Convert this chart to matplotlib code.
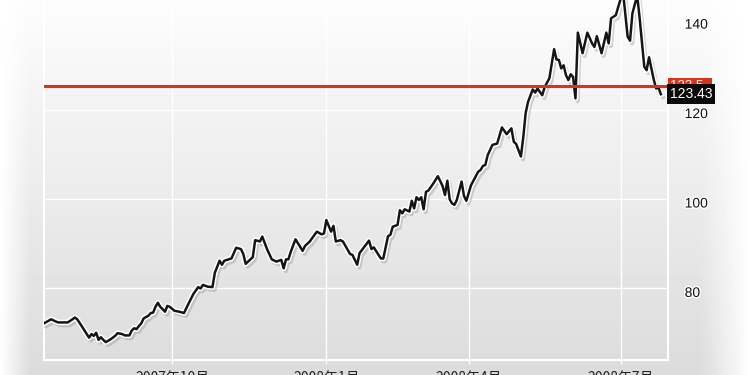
import numpy as np
import matplotlib.pyplot as plt
import matplotlib.patheffects as pe
from matplotlib.transforms import ScaledTranslation

# trading-day index and closing price
day = [0, 3, 5, 6, 10, 12, 13, 14, 16, 18, 19, 20, 21, 22, 23, 24, 25, 26, 28, 30,
       31, 33, 34, 36, 37, 38, 39, 40, 41, 42, 43, 44, 45, 46, 47, 48, 49, 51, 52, 53,
       55, 57, 59, 61, 63, 65, 66, 67, 69, 71, 72, 74, 75, 76, 79, 81, 83, 84, 85, 88,
       89, 91, 92, 94, 96, 98, 100, 101, 102, 103, 104, 106, 109, 110, 112, 115, 117, 118, 119, 121,
       122, 123, 125, 126, 128, 129, 130, 132, 133, 135, 137, 138, 139, 141, 142, 143, 145, 146, 147, 149,
       150, 151, 152, 154, 155, 156, 157, 158, 159, 160, 161, 162, 164, 166, 168, 169, 170, 171, 172, 173,
       174, 176, 177, 178, 180, 183, 184, 185, 186, 187, 189, 191, 193, 195, 197, 198, 199, 201, 202, 203,
       204, 206, 207, 208, 210, 211, 213, 215, 216, 217, 218, 219, 220, 221, 222, 223, 224, 225, 227, 229,
       231, 232, 233, 235, 237, 238, 239, 241, 244, 246, 247, 248, 250, 251, 253, 254, 255, 257, 258, 259,
       260]
price = [72.2, 73.1, 72.6, 72.4, 72.4, 73.1, 73.5, 73.1, 71.5, 69.8, 69.0, 69.8, 69.4, 70.1, 68.5, 69.1, 68.5, 68.0, 68.6, 69.4,
         70.0, 69.8, 69.5, 69.5, 70.6, 71.1, 70.9, 71.6, 72.2, 73.3, 73.6, 73.9, 74.5, 74.6, 75.9, 76.8, 75.9, 74.8, 76.1, 75.9,
         75.0, 74.8, 74.5, 76.7, 78.8, 80.3, 80.0, 80.8, 80.4, 80.3, 83.5, 86.2, 85.3, 86.2, 86.7, 89.1, 88.8, 87.7, 85.5, 87.0,
         90.8, 90.5, 91.6, 88.8, 86.5, 86.0, 86.4, 84.5, 86.5, 86.5, 88.2, 91.0, 88.4, 89.5, 90.5, 92.7, 92.1, 92.3, 95.3, 92.7,
         94.0, 90.5, 90.8, 90.5, 88.6, 87.7, 87.5, 85.3, 87.9, 89.3, 90.7, 88.8, 89.2, 87.5, 86.7, 86.7, 91.7, 92.0, 93.8, 94.2,
         97.5, 96.8, 97.7, 97.2, 99.6, 97.9, 100.4, 99.8, 100.4, 97.7, 101.6, 101.9, 103.4, 105.1, 102.9, 100.9, 104.1, 99.9, 99.0, 98.7,
         99.8, 103.9, 100.7, 99.6, 103.1, 106.1, 106.5, 107.4, 107.6, 109.8, 112.1, 112.4, 116.0, 114.5, 115.8, 112.8, 112.3, 109.5, 113.8, 119.2,
         121.7, 124.5, 123.8, 124.7, 123.2, 125.0, 127.0, 133.5, 131.2, 131.1, 129.2, 129.9, 127.7, 126.6, 127.9, 127.3, 122.5, 137.2, 132.6, 137.2,
         134.8, 134.0, 136.4, 132.6, 137.2, 134.8, 140.4, 141.1, 146.5, 136.3, 135.4, 141.5, 145.5, 140.7, 129.6, 128.8, 131.7, 126.7, 124.7, 124.9,
         123.43]

tick_days = [54, 119, 179, 243]
tick_labels = ['2007年10月', '2008年1月', '2008年4月', '2008年7月']
y_ticks = [80, 100, 120, 140]
ref_level = 125.3
ref_text = '123.5'
last_text = '123.43'

fig = plt.figure(figsize=(7.5, 3.75), dpi=100)

# soft grey background, lighter at the top and fading to white at the sides
bg = fig.add_axes([0, 0, 1, 1])
bg.axis('off')
yy = np.linspace(0, 1, 375)[:, None]
xx = np.arange(750)[None, :]
base = 0.99 - 0.13 * yy
edge = np.clip((30 - xx) / 30, 0, 1) + np.clip((xx - 700) / 50, 0, 1)
img = base + (1 - base) * np.clip(edge, 0, 1)
bg.imshow(img, cmap='gray', vmin=0, vmax=1, aspect='auto')

ax = fig.add_axes([44 / 750, 15 / 375, 624 / 750, 360 / 375])
ax.set_facecolor('none')
ax.set_xlim(0, 263)
ax.set_ylim(64.0, 144.5)

ax.grid(True, color='white', linewidth=1)
for side in ['left', 'bottom', 'right']:
    ax.spines[side].set_color('white')
    ax.spines[side].set_linewidth(1.5)
ax.spines['top'].set_visible(False)

ax.plot(day, price, color='#151515', linewidth=1.8, zorder=3,
        path_effects=[pe.SimpleLineShadow(offset=(1.5, -2), shadow_color='#888888', alpha=0.35, linewidth=3),
                      pe.Stroke(linewidth=4, foreground='white'), pe.Normal()])
ax.axhline(ref_level, color='#d8341a', linewidth=2.2, zorder=4)

ax.set_xticks(tick_days)
ax.set_xticklabels(tick_labels, family=['Noto Sans CJK JP', 'DejaVu Sans'], fontsize=10, color='#222222')
ax.tick_params(axis='x', length=3, color='white', pad=5)

ax.yaxis.tick_right()
ax.set_yticks(y_ticks)
ax.set_yticklabels([str(v) for v in y_ticks], family=['Liberation Sans Narrow', 'Liberation Sans'],
                   fontsize=10, color='#111111')
ax.tick_params(axis='y', length=0, pad=12)
shift = ScaledTranslation(0, -0.03, fig.dpi_scale_trans)
for lab in ax.get_yticklabels():
    lab.set_transform(lab.get_transform() + shift)
    lab.set_path_effects([pe.withStroke(linewidth=2, foreground='white')])

ax.text(1.003, ref_level, ref_text + '  ', transform=ax.get_yaxis_transform(), ha='left', va='center',
        fontsize=9.5, color='white', family=['Liberation Sans Narrow', 'Liberation Sans'], zorder=5, clip_on=False,
        bbox=dict(boxstyle='square,pad=0.15', facecolor='#d8341a', edgecolor='none'))
ax.text(1.003, price[-1], last_text, transform=ax.get_yaxis_transform(), ha='left', va='center',
        fontsize=10, color='white', family=['Liberation Sans Narrow', 'Liberation Sans'], zorder=6, clip_on=False,
        bbox=dict(boxstyle='square,pad=0.2', facecolor='#0a0a0a', edgecolor='none'))

fig.savefig('out.png', dpi=100)
